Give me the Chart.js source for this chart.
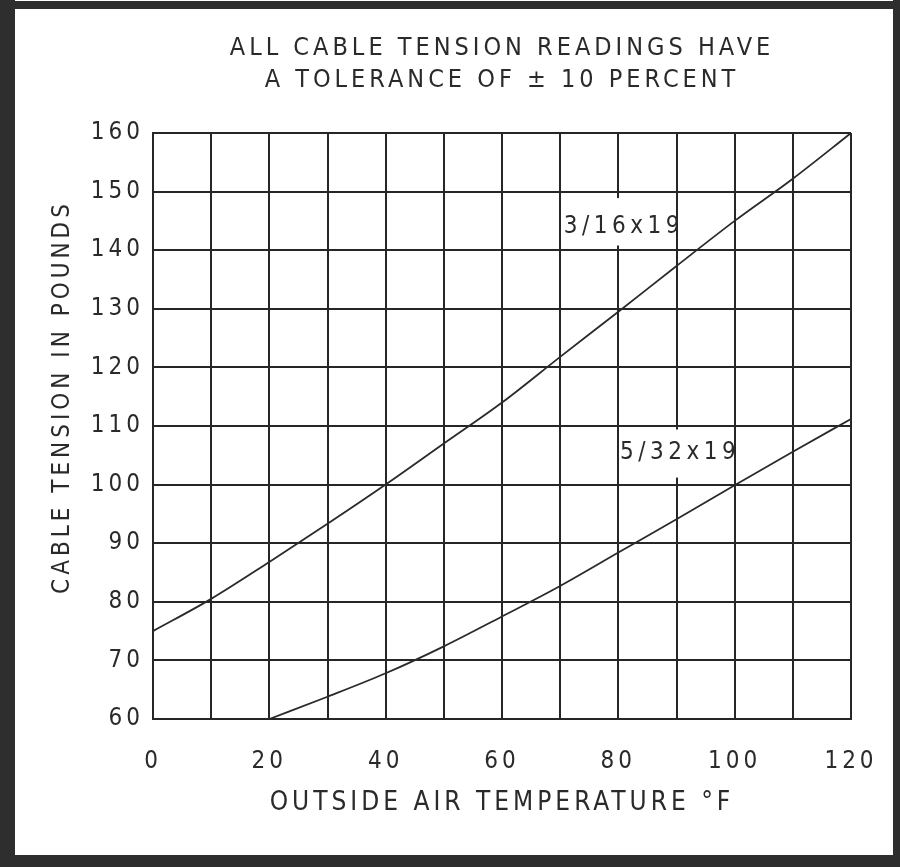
<!DOCTYPE html>
<html>
<head>
<meta charset="utf-8">
<script src="https://cdn.jsdelivr.net/npm/chart.js@4.4.0/dist/chart.umd.min.js"></script>
<style>
  html, body { margin: 0; padding: 0; background: #fff; }
  #wrap { width: 900px; height: 867px; }
</style>
</head>
<body>
<div id="wrap"><canvas id="cableChart" width="900" height="867"></canvas></div>
<script>
// values
var cableLabels = ["3/16x19", "5/32x19"];
var temps316 = [0, 10, 20, 30, 40, 50, 60, 70, 80, 90, 100, 110, 120];
var tension316 = [75, 80.5, 86.8, 93.3, 100, 107, 114, 121.8, 129.5, 137.3, 145, 152.2, 160];
var temps532 = [20, 30, 40, 50, 60, 70, 80, 90, 100, 110, 120];
var tension532 = [60, 63.8, 67.8, 72.4, 77.5, 82.7, 88.4, 94.1, 99.9, 105.6, 111.2];
var xTickLabels = [0, 20, 40, 60, 80, 100, 120];
var yTickLabels = [60, 70, 80, 90, 100, 110, 120, 130, 140, 150, 160];

var FONT = '"Liberation Sans Narrow", "DejaVu Sans Condensed", "Roboto Condensed", Roboto, sans-serif';
var INK = "#2a2a2a";
var GRID = "#262626";

function toPoints(xs, ys) {
  return xs.map(function (x, i) { return { x: x, y: ys[i] }; });
}

// letter spacing for all text drawn by Chart.js
var spacingPlugin = {
  id: "spacing",
  beforeUpdate: function (chart) { chart.ctx.letterSpacing = "4px"; },
  beforeDraw: function (chart) { chart.ctx.letterSpacing = "4px"; }
};

// scanned page border + rotated y title
var pagePlugin = {
  id: "page",
  beforeDraw: function (chart) {
    var ctx = chart.ctx, w = chart.width, h = chart.height;
    ctx.save();
    ctx.fillStyle = "#fff";
    ctx.fillRect(0, 0, w, h);
    ctx.fillStyle = "#2e2e2e";
    ctx.fillRect(0, 0, 15, h);
    ctx.fillRect(0, 1, w, 8);
    ctx.fillRect(w - 7, 0, 7, h);
    ctx.fillRect(0, h - 12, w, 12);
    ctx.restore();
  },
  afterDraw: function (chart) {
    var ctx = chart.ctx;
    ctx.save();
    ctx.letterSpacing = "4px";
    ctx.translate(63, 397);
    ctx.rotate(-Math.PI / 2);
    ctx.font = "24px " + FONT;
    ctx.fillStyle = INK;
    ctx.textAlign = "center";
    ctx.textBaseline = "middle";
    ctx.fillText("CABLE TENSION IN POUNDS", 0, 0);
    ctx.restore();
  }
};

// curve labels sitting in white boxes over the grid
var curveLabelPlugin = {
  id: "curveLabels",
  beforeDatasetsDraw: function (chart, args, opts) {
    var ctx = chart.ctx, xs = chart.scales.x, ys = chart.scales.y;
    ctx.save();
    opts.items.forEach(function (it) {
      var l = xs.getPixelForValue(it.box[0]) + 1.5;
      var r = xs.getPixelForValue(it.box[1]) - 1.5;
      var t = ys.getPixelForValue(it.box[3]);
      var b = ys.getPixelForValue(it.box[2]);
      ctx.fillStyle = "#fff";
      ctx.fillRect(l, t, r - l, b - t);
      ctx.letterSpacing = "4.5px";
      ctx.font = "24px " + FONT;
      ctx.fillStyle = INK;
      ctx.textAlign = "left";
      ctx.textBaseline = "middle";
      ctx.fillText(it.text, xs.getPixelForValue(it.at[0]), ys.getPixelForValue(it.at[1]));
    });
    ctx.restore();
  }
};

var ctx = document.getElementById("cableChart").getContext("2d");
var chart = new Chart(ctx, {
  type: "line",
  data: {
    datasets: [
      {
        label: cableLabels[0],
        data: toPoints(temps316, tension316),
        borderColor: INK,
        borderWidth: 1.8,
        pointRadius: 0,
        cubicInterpolationMode: "monotone",
        fill: false
      },
      {
        label: cableLabels[1],
        data: toPoints(temps532, tension532),
        borderColor: INK,
        borderWidth: 1.8,
        pointRadius: 0,
        cubicInterpolationMode: "monotone",
        fill: false
      }
    ]
  },
  options: {
    responsive: false,
    animation: false,
    devicePixelRatio: 1,
    layout: { padding: { left: 0, right: 49, top: 0, bottom: 0 } },
    plugins: {
      legend: { display: false },
      tooltip: { enabled: false },
      title: {
        display: true,
        fullSize: false,
        text: ["ALL CABLE TENSION READINGS HAVE", "A TOLERANCE OF \u00b1 10 PERCENT"],
        color: INK,
        font: { family: FONT, size: 25, weight: "normal", lineHeight: 1.26 },
        padding: { top: 33, bottom: 37 }
      },
      curveLabels: {
        items: [
          { text: cableLabels[0], at: [70.6, 144], box: [70, 90, 140.8, 148.9] },
          { text: cableLabels[1], at: [80.3, 105.5], box: [80, 100, 101.2, 109.4] }
        ]
      }
    },
    scales: {
      x: {
        type: "linear",
        min: 0,
        max: 120,
        afterFit: function (s) {
          s.height = 148;
          s.paddingLeft = 0;
          s.paddingRight = 0;
        },
        ticks: {
          stepSize: 10,
          autoSkip: false,
          padding: 28,
          color: INK,
          maxRotation: 0,
          font: { family: FONT, size: 24, lineHeight: 1.2 },
          callback: function (v) { return xTickLabels.indexOf(v) >= 0 ? String(v) : ""; }
        },
        grid: { color: GRID, lineWidth: 2, drawTicks: false },
        border: { color: GRID, width: 2 },
        title: {
          display: true,
          text: "OUTSIDE AIR TEMPERATURE \u00b0F",
          color: INK,
          font: { family: FONT, size: 26, lineHeight: 1.2 },
          padding: { top: 0, bottom: 48 }
        }
      },
      y: {
        min: 60,
        max: 160,
        afterFit: function (s) { s.width = 153; },
        ticks: {
          stepSize: 10,
          autoSkip: false,
          padding: 9,
          color: INK,
          font: { family: FONT, size: 24, lineHeight: 1.2 },
          callback: function (v) { return yTickLabels.indexOf(v) >= 0 ? String(v) : null; }
        },
        grid: { color: GRID, lineWidth: 2, drawTicks: false },
        border: { color: GRID, width: 2 }
      }
    }
  },
  plugins: [spacingPlugin, pagePlugin, curveLabelPlugin]
});
</script>
</body>
</html>
